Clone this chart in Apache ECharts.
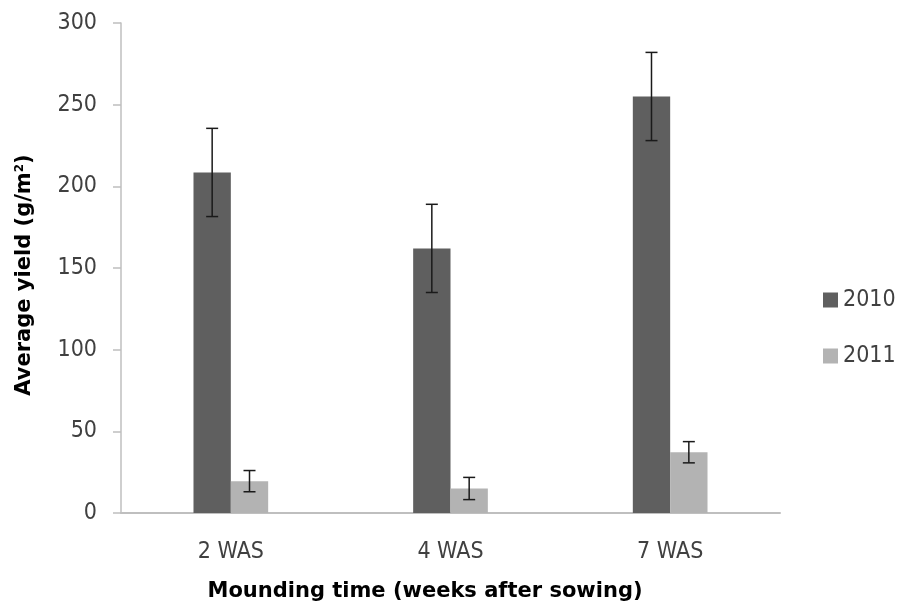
<!DOCTYPE html>
<html>
<head>
<meta charset="utf-8">
<script src="https://cdn.jsdelivr.net/npm/echarts@6/dist/echarts.min.js"></script>
<style>
html,body{margin:0;padding:0;background:#fff;}
#chart{width:897px;height:609px;}
</style>
</head>
<body>
<div id="chart"></div>
<script>
var categories = ['2 WAS', '4 WAS', '7 WAS'];
var seriesNames = ['2010', '2011'];
var yield2010 = [208.5, 162, 255];
var err2010 = [27, 27, 27];
var yield2011 = [19.5, 15, 37.2];
var err2011 = [6.5, 6.8, 6.5];
var yTicks = [0, 50, 100, 150, 200, 250, 300];

var colors = ['#5f5f5f', '#b3b3b3'];
var tickFont = "'DejaVu Sans Condensed', 'Liberation Sans', sans-serif";
var nameFont = "'DejaVu Sans', 'Liberation Sans', sans-serif";
var catGap = 0.66;

function errData(vals, errs) {
  return vals.map(function (v, i) { return [i, v - errs[i], v + errs[i]]; });
}

function errRender(sign) {
  return function (params, api) {
    var i = api.value(0);
    var lo = api.coord([i, api.value(1)]);
    var hi = api.coord([i, api.value(2)]);
    var band = api.size([1, 0])[0];
    var bw = band * (1 - catGap) / 2;
    var x = lo[0] + sign * bw / 2;
    var cap = 6;
    var st = { stroke: '#1a1a1a', lineWidth: 1.5 };
    return {
      type: 'group',
      children: [
        { type: 'line', shape: { x1: x, y1: hi[1], x2: x, y2: lo[1] }, style: st },
        { type: 'line', shape: { x1: x - cap, y1: hi[1], x2: x + cap, y2: hi[1] }, style: st },
        { type: 'line', shape: { x1: x - cap, y1: lo[1], x2: x + cap, y2: lo[1] }, style: st }
      ]
    };
  };
}

var chart = echarts.init(document.getElementById('chart'));
chart.setOption({
  animation: false,
  backgroundColor: '#ffffff',
  grid: { left: 121, right: 117, top: 23, bottom: 96, containLabel: false },
  legend: {
    orient: 'vertical',
    left: 818,
    top: 283,
    icon: 'rect',
    itemWidth: 15,
    itemHeight: 15,
    itemGap: 32,
    data: seriesNames,
    textStyle: { fontFamily: tickFont, fontSize: 23, lineHeight: 24, color: '#404040' }
  },
  xAxis: {
    type: 'category',
    data: categories,
    axisLine: { show: true, lineStyle: { color: '#bfbfbf', width: 2 } },
    axisTick: { show: false },
    axisLabel: { fontFamily: tickFont, fontSize: 23, color: '#404040', margin: 28 },
    splitLine: { show: false }
  },
  yAxis: {
    type: 'value',
    min: yTicks[0],
    max: yTicks[yTicks.length - 1],
    interval: 50,
    axisLine: { show: true, lineStyle: { color: '#bfbfbf', width: 1.5 } },
    axisTick: { show: true, length: 8, lineStyle: { color: '#bfbfbf', width: 1.5 } },
    axisLabel: { fontFamily: tickFont, fontSize: 23, color: '#404040', margin: 24 },
    splitLine: { show: false }
  },
  graphic: [
    {
      type: 'text',
      x: 25, y: 275,
      rotation: Math.PI / 2,
      style: {
        text: '{b|Average yield (g/m}{s|2}{b|)}',
        align: 'center',
        verticalAlign: 'middle',
        rich: {
          b: { fontFamily: nameFont, fontWeight: 'bold', fontSize: 21, fill: '#000' },
          s: { fontFamily: nameFont, fontWeight: 'bold', fontSize: 12, fill: '#000', padding: [0, 0, 10, 0] }
        }
      }
    },
    {
      type: 'text',
      x: 425, y: 592,
      style: {
        text: 'Mounding time (weeks after sowing)',
        align: 'center',
        verticalAlign: 'middle',
        fontFamily: nameFont,
        fontWeight: 'bold',
        fontSize: 21,
        fill: '#000'
      }
    }
  ],
  series: [
    {
      name: seriesNames[0],
      type: 'bar',
      data: yield2010,
      itemStyle: { color: colors[0] },
      barGap: '0%',
      barCategoryGap: (catGap * 100) + '%'
    },
    {
      name: seriesNames[1],
      type: 'bar',
      data: yield2011,
      itemStyle: { color: colors[1] },
      barGap: '0%',
      barCategoryGap: (catGap * 100) + '%'
    },
    {
      type: 'custom',
      renderItem: errRender(-1),
      data: errData(yield2010, err2010),
      encode: { x: 0, y: [1, 2] },
      z: 5,
      silent: true
    },
    {
      type: 'custom',
      renderItem: errRender(1),
      data: errData(yield2011, err2011),
      encode: { x: 0, y: [1, 2] },
      z: 5,
      silent: true
    }
  ]
});
</script>
</body>
</html>
